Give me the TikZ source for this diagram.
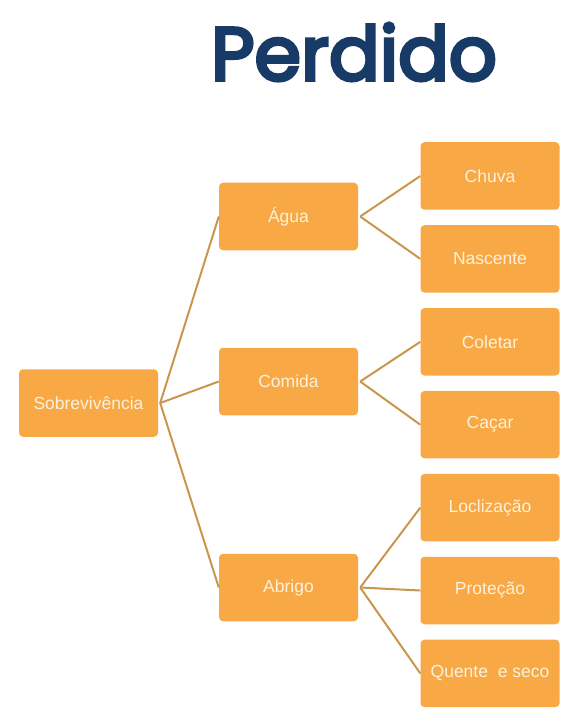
\documentclass[tikz,border=0pt]{standalone}
\usepackage{fontspec}
\setmainfont{Liberation Sans}
\newfontfamily\titlefont[FakeBold=4.5]{Poppins}
\usetikzlibrary{positioning}

\definecolor{boxorange}{HTML}{F8A945}
\definecolor{boxtext}{HTML}{FDF1DC}
\definecolor{linktan}{HTML}{C9964F}
\definecolor{titlenavy}{HTML}{183A66}

\begin{document}
\begin{tikzpicture}[x=1pt,y=-1pt,
  box/.style={rectangle, rounded corners=4pt, fill=boxorange, text=boxtext,
    minimum width=139pt, minimum height=67.5pt, inner sep=0pt,
    font=\fontsize{17.5}{20}\selectfont},
  link/.style={draw=linktan, line width=2pt}]
  \useasboundingbox (0,0) rectangle (577,719);

  % Title
  \node[text=titlenavy, font=\titlefont\fontsize{75}{80}\selectfont] (title) at (354,52) {Perdido};

  % Create nodes
  \node[box] (S) at (88.5,403) {Sobrevivência};
  \node[box] (A) at (288.5,216.5) {Água};
  \node[box] (C) at (288.5,381.5) {Comida};
  \node[box] (B) at (288.5,587.5) {Abrigo};

  \node[box] (A1) at (490,176) {Chuva};
  \node[box] (A2) [below = 15pt of A1] {Nascente};
  \node[box] (C1) [below = 15pt of A2] {Coletar};
  \node[box] (C2) [below = 15pt of C1] {Caçar};
  \node[box] (B1) [below = 15pt of C2] {Loclização};
  \node[box] (B2) [below = 15pt of B1] {Proteção};
  \node[box] (B3) [below = 15pt of B2] {Quente\ \ e seco};

  % Connectors
  \foreach \child in {A, C, B}
    \path[link] ([xshift=2pt]S.east) -- (\child.west);
  \foreach \child in {A1, A2}
    \path[link] ([xshift=2pt]A.east) -- (\child.west);
  \foreach \child in {C1, C2}
    \path[link] ([xshift=2pt]C.east) -- (\child.west);
  \foreach \child in {B1, B2, B3}
    \path[link] ([xshift=2pt]B.east) -- (\child.west);
\end{tikzpicture}
\end{document}
